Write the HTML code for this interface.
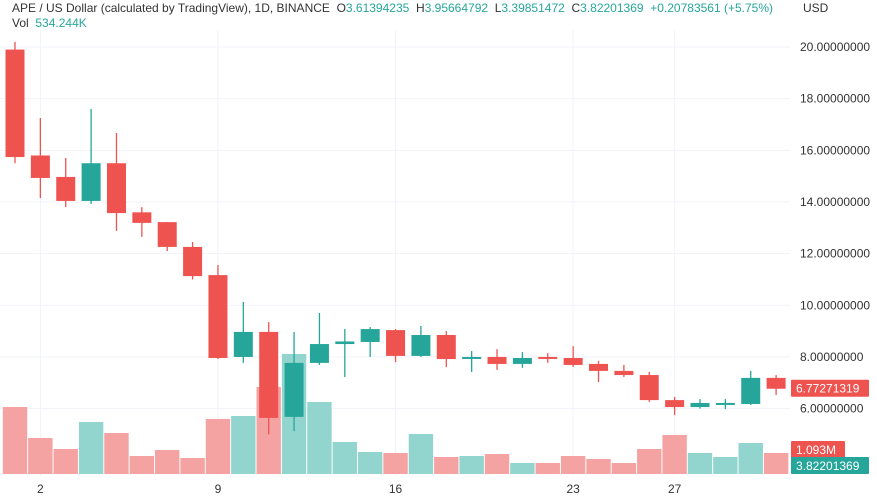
<!DOCTYPE html>
<html><head><meta charset="utf-8"><style>
body{margin:0;background:#fff;font-family:"Liberation Sans",sans-serif;}
#wrap{position:relative;width:877px;height:502px;overflow:hidden;}
svg{position:absolute;left:0;top:0;}
.hdr{position:absolute;font-size:12px;color:#333;white-space:nowrap;}
.g{color:#26a69a;}
</style></head><body>
<div id="wrap">
<svg id="chart" width="877" height="502"></svg>
<div class="hdr" style="left:12px;top:1px">APE / US Dollar (calculated by TradingView), 1D, BINANCE &nbsp;O<span class="g">3.61394235</span> &nbsp;H<span class="g">3.95664792</span> &nbsp;L<span class="g">3.39851472</span> &nbsp;C<span class="g">3.82201369</span> &nbsp;<span class="g">+0.20783561 (+5.75%)</span></div>
<div class="hdr" style="left:12px;top:16px">Vol &nbsp;<span class="g">534.244K</span></div>
<div class="hdr" style="left:803px;top:1px">USD</div>
</div>
<script>
const opens =  [19.9,15.8,14.97,14.04,15.5,13.6,13.22,12.26,11.17,8.0,8.97,5.68,7.77,8.5,8.58,9.04,8.04,8.85,7.98,8.0,7.73,8.0,7.96,7.73,7.46,7.3,6.33,6.06,6.2,6.18,7.19];
const highs =  [20.2,17.25,15.7,17.6,16.67,13.8,13.22,12.45,11.56,10.13,9.35,8.97,9.7,9.08,9.16,9.08,9.2,9.0,8.23,8.3,8.19,8.15,8.42,7.85,7.69,7.42,6.45,6.37,6.37,7.46,7.3];
const lows =   [15.5,14.15,13.8,13.92,12.88,12.65,12.1,11.0,7.92,7.77,5.0,5.13,7.69,7.22,8.0,7.8,8.0,7.61,7.42,7.5,7.58,7.77,7.61,7.03,7.22,6.26,5.75,6.0,5.98,6.14,6.53];
const closes = [15.74,14.93,14.04,15.5,13.57,13.19,12.26,11.13,7.96,8.97,5.64,7.77,8.5,8.6,9.08,8.04,8.85,7.92,8.0,7.73,7.96,7.96,7.69,7.46,7.3,6.33,6.06,6.22,6.22,7.19,6.77];
const volumes = [3484,1872,1300,2704,2132,936,1248,832,2860,3016,4524,6240,3744,1664,1144,1092,2080,884,936,1040,572,572,936,780,572,1300,2028,1092,884,1612,1093];
const priceTicks = [20,18,16,14,12,10,8,6];
const dateLabels = [[1,"2"],[8,"9"],[15,"16"],[22,"23"],[26,"27"]];

const NS="http://www.w3.org/2000/svg";
const svg=document.getElementById('chart');
const xOf=i=>15+i*25.37;
const yOf=p=>47+(20-p)*25.83;
const volBase=474, volPx=1/52;
const vY=v=>volBase-v*volPx;
const RED="#ef5350",TEAL="#26a69a",RV="#f5a3a2",TV="#92d5ce";
function mk(tag,attrs){const e=document.createElementNS(NS,tag);for(const k in attrs)e.setAttribute(k,attrs[k]);svg.appendChild(e);return e;}

priceTicks.forEach(p=>{
  const l=mk('line',{x1:0,x2:790,y1:yOf(p),y2:yOf(p),stroke:"#f0f3fa","stroke-width":1});
  
  
  const t=mk('text',{x:800,y:yOf(p)+4,"font-size":12,fill:"#333","font-family":"Liberation Sans, sans-serif"});
  t.textContent=p.toFixed(8);
  
  
});
dateLabels.forEach(([i,s])=>{
  const l=mk('line',{x1:xOf(i),x2:xOf(i),y1:30,y2:476,stroke:"#f0f3fa","stroke-width":1});
  
  
  const t=mk('text',{x:xOf(i),y:493,"font-size":12,fill:"#333","text-anchor":"middle","font-family":"Liberation Sans, sans-serif"});
  t.textContent=s;
  
  
});
volumes.forEach((v,i)=>{
  const up=closes[i]>=opens[i];
  const r=mk('rect',{x:xOf(i)-12.2,y:vY(v),width:24.4,height:volBase-vY(v),fill:up?TV:RV});
  
  
});
opens.forEach((o,i)=>{
  const c=closes[i],up=c>=o,col=up?TEAL:RED,x=xOf(i);
  const w=mk('line',{x1:x,x2:x,y1:yOf(highs[i]),y2:yOf(lows[i]),stroke:col,"stroke-width":1.3});
  
  
  const top=yOf(Math.max(o,c)),h=Math.max(2,yOf(Math.min(o,c))-top);
  const b=mk('rect',{x:x-9.5,y:top,width:19,height:h,fill:col});
  
  
});
function badge(x,y,w,bg,txt,name){
  const r=mk('rect',{x:x,y:y,width:w,height:17,fill:bg,rx:1});
  
  
  const t=mk('text',{x:x+5,y:y+13,"font-size":12,fill:"#fff","font-family":"Liberation Sans, sans-serif"});
  t.textContent=txt;
  
  
}
const lastI=closes.length-1;
badge(791,yOf(closes[lastI])-9,78,RED,closes[lastI].toFixed(8).replace(/0+$/,'')+"271319".slice(0,0)?"6.77271319":"6.77271319",'last-price-label');
badge(791,441,54,RED,"1.093M",'volume-value-label');
badge(791,457,78,TEAL,"3.82201369",'close-value-label');
</script>
</body></html>
